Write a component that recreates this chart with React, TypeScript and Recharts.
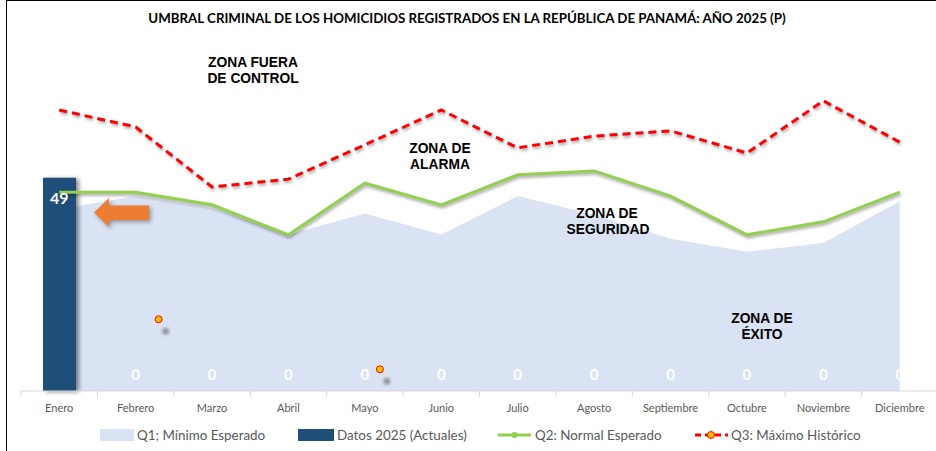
import React from 'react';
import { ComposedChart, Area, Bar, Line, XAxis, YAxis, LabelList, ReferenceDot } from 'recharts';

const months = ['Enero', 'Febrero', 'Marzo', 'Abril', 'Mayo', 'Junio', 'Julio', 'Agosto', 'Septiembre', 'Octubre', 'Noviembre', 'Diciembre'];
const q1Minimo = [41.8, 44.8, 42, 36, 40.8, 36, 44.8, 40.5, 35, 32, 34, 43.6];
const q2Normal = [45.7, 45.7, 42.8, 35.9, 47.8, 42.8, 49.7, 50.6, 44.8, 35.9, 38.9, 45.7];
const q3Maximo = [64.6, 60.7, 46.9, 48.7, 56.6, 64.6, 55.9, 58.6, 59.8, 54.7, 66.7, 57.2];
const datos2025 = [49, 0, 0, 0, 0, 0, 0, 0, 0, 0, 0, 0];

const legendLabels = ['Q1; Mínimo Esperado', 'Datos 2025 (Actuales)', 'Q2: Normal Esperado', 'Q3: Máximo Histórico'];
const title = 'UMBRAL CRIMINAL DE LOS HOMICIDIOS REGISTRADOS EN LA REPÚBLICA DE PANAMÁ: AÑO 2025 (P)';

const data = months.map((m, i) => ({
  mes: m,
  q1: q1Minimo[i],
  q2: q2Normal[i],
  q3: q3Maximo[i],
  actual: datos2025[i],
}));

const C = {
  bar: '#1f4e79',
  area: '#dae3f3',
  green: '#92d050',
  red: '#ff0000',
  orange: '#ed7d31',
  marker: '#ffc000',
  text: '#595959',
};

const FONT = 'Lato, "Open Sans", sans-serif';
const BOLD = '"Liberation Sans", Arial, sans-serif';

const CustomTick = (props: any) => {
  const { x, y, payload } = props;
  const half = payload && payload.offset ? payload.offset : 38.2;
  return (
    <g>
      <line x1={x - half} x2={x - half} y1={y} y2={y + 6} stroke="#d9d9d9" strokeWidth={1} />
      <text x={x} y={y + 16} textAnchor="middle" dominantBaseline="central" fill={C.text} fontSize={11} fontFamily={FONT}>
        {payload.value}
      </text>
    </g>
  );
};

const PointLabel = (props: any) => {
  const { x, y, value } = props;
  const cy = value > 0 ? y + 20 : y - 17;
  return (
    <text x={x} y={cy} textAnchor="middle" dominantBaseline="central" fill="#ffffff" fontSize={value > 0 ? 16 : 15} fontWeight="bold" fontFamily={FONT}>
      {value}
    </text>
  );
};

const StrayMarker = (dx: number) => (props: any) => {
  const { cx, cy } = props;
  return (
    <g>
      <circle cx={cx + dx + 7} cy={cy + 12} r={3.5} fill="#555" opacity={0.55} filter="url(#blurDot)" />
      <circle cx={cx + dx} cy={cy} r={3.5} fill={C.marker} stroke={C.red} strokeWidth={1} />
    </g>
  );
};

export default function App() {
  return (
    <div style={{ position: 'absolute', left: 0, top: 0, width: 936, height: 451, overflow: 'hidden', background: '#fff' }}>
      <style>{`
        .q2-line path.recharts-line-curve { filter: drop-shadow(1.5px 2px 1.5px rgba(0,0,0,0.35)); }
        .q3-line path.recharts-line-curve { filter: drop-shadow(1.5px 2px 1.5px rgba(0,0,0,0.35)); }
        .bar-2025 path, .bar-2025 rect { filter: drop-shadow(3px 1px 2px rgba(0,0,0,0.45)); }
      `}</style>
      <ComposedChart width={940} height={451} data={data} margin={{ top: 43, right: 2, left: 21, bottom: 30 }}>
        <defs>
          <filter id="blurDot" x="-100%" y="-100%" width="300%" height="300%">
            <feGaussianBlur stdDeviation="1.5" />
          </filter>
        </defs>
        <XAxis
          dataKey="mes"
          axisLine={{ stroke: '#d9d9d9' }}
          tickLine={false}
          tickSize={0}
          tickMargin={0}
          height={30}
          interval={0}
          tick={<CustomTick />}
        />
        <YAxis hide domain={[0, 80]} />
        <Area dataKey="q1" type="linear" fill={C.area} fillOpacity={1} stroke="none" isAnimationActive={false} />
        <Bar dataKey="actual" fill={C.bar} barSize={33} className="bar-2025" isAnimationActive={false} />
        <Line dataKey="q2" type="linear" stroke={C.green} strokeWidth={3} dot={false} className="q2-line" isAnimationActive={false} />
        <Line dataKey="q3" type="linear" stroke={C.red} strokeWidth={3} strokeDasharray="8 5" dot={false} className="q3-line" isAnimationActive={false} />
        <Line dataKey="actual" type="linear" stroke="none" dot={false} activeDot={false} legendType="none" isAnimationActive={false}>
          <LabelList dataKey="actual" content={<PointLabel />} />
        </Line>
        <ReferenceDot x="Febrero" y={16.5} r={4} shape={StrayMarker(23)} ifOverflow="visible" />
        <ReferenceDot x="Mayo" y={5} r={4} shape={StrayMarker(15)} ifOverflow="visible" />
      </ComposedChart>

      <svg width={936} height={451} style={{ position: 'absolute', left: 0, top: 0, pointerEvents: 'none' }}>
        <rect x={6.5} y={0.5} width={940} height={470} fill="none" stroke="#000" strokeWidth={1} />
        <text x={467} y={18} textAnchor="middle" dominantBaseline="central" fontSize={13.3} fontWeight="bold" fontFamily={FONT} fill="#000">
          {title}
        </text>
        <g fontFamily={BOLD} fontWeight="bold" fontSize={13.8} fill="#000" textAnchor="middle">
          <text x={253} y={62} dominantBaseline="central">ZONA FUERA</text>
          <text x={253} y={78} dominantBaseline="central">DE CONTROL</text>
          <text x={440} y={148} dominantBaseline="central">ZONA DE</text>
          <text x={440} y={164} dominantBaseline="central">ALARMA</text>
          <text x={607} y={213} dominantBaseline="central">ZONA DE</text>
          <text x={608} y={229} dominantBaseline="central">SEGURIDAD</text>
          <text x={762} y={318} dominantBaseline="central">ZONA DE</text>
          <text x={762} y={334} dominantBaseline="central">ÉXITO</text>
        </g>
        <g style={{ filter: 'drop-shadow(2px 2px 2px rgba(0,0,0,0.35))' }}>
          <polygon points="94,212.5 109,198 109,205.5 149,205.5 149,220 109,220 109,227" fill={C.orange} />
        </g>
        <g fontFamily={FONT} fontSize={13.4} fill={C.text}>
          <rect x={100} y={429} width={34} height={12} fill={C.area} />
          <text x={137} y={435} dominantBaseline="central">{legendLabels[0]}</text>
          <rect x={298} y={429} width={36} height={12} fill={C.bar} />
          <text x={337} y={435} dominantBaseline="central">{legendLabels[1]}</text>
          <line x1={498} x2={531} y1={435} y2={435} stroke={C.green} strokeWidth={3} />
          <circle cx={514.5} cy={435} r={3} fill={C.green} />
          <text x={535} y={435} dominantBaseline="central">{legendLabels[2]}</text>
          <line x1={695} x2={728} y1={435} y2={435} stroke={C.red} strokeWidth={3} strokeDasharray="6 4" />
          <circle cx={711} cy={435} r={3.5} fill={C.marker} stroke={C.red} strokeWidth={1} />
          <text x={731} y={435} dominantBaseline="central">{legendLabels[3]}</text>
        </g>
      </svg>
    </div>
  );
}
